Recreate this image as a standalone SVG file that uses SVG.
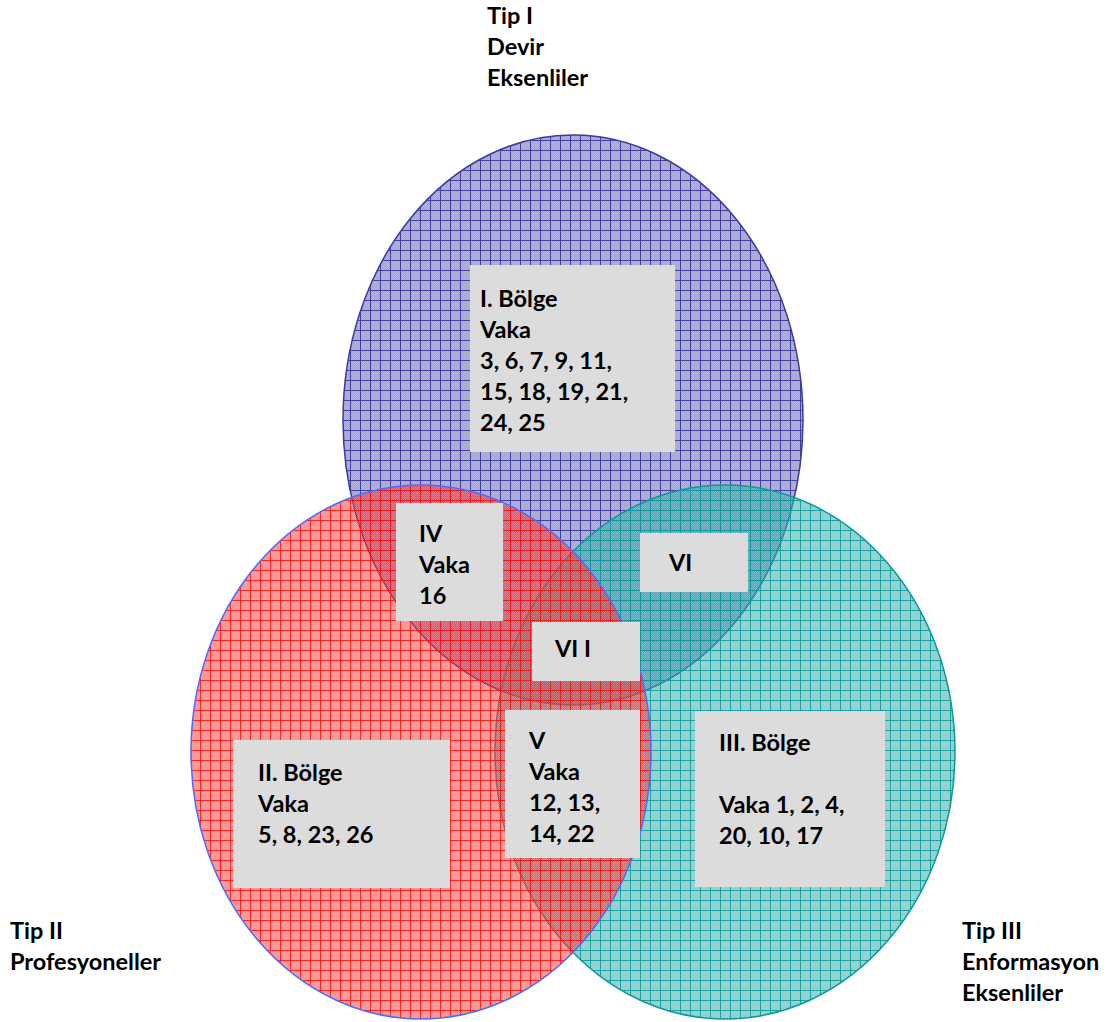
<svg xmlns="http://www.w3.org/2000/svg" width="1111" height="1022" viewBox="0 0 1111 1022">
  <style>
    text { font-family: Lato, "Liberation Sans", sans-serif; font-weight: bold; font-size: 23.5px; fill: #000; }
    .box { fill: #dcdcdc; }
  </style>
  <defs>
    <!-- fine checker texture shared by the grid fills -->
    <pattern id="dots" width="2" height="2" patternUnits="userSpaceOnUse">
      <rect width="1" height="1" fill="#ffffff" fill-opacity="0.18"/>
      <rect x="1" y="1" width="1" height="1" fill="#ffffff" fill-opacity="0.18"/>
    </pattern>
    <!-- grid hatch fills -->
    <pattern id="gridBlue" width="10" height="10" patternUnits="userSpaceOnUse">
      <rect width="10" height="10" fill="#a3a3d4"/>
      <rect width="10" height="10" fill="url(#dots)"/>
      <path d="M0 0.5H10M0.5 0V10" stroke="#4040a2" stroke-width="1"/>
    </pattern>
    <pattern id="gridTeal" width="10" height="10" patternUnits="userSpaceOnUse">
      <rect width="10" height="10" fill="#16a4a4" fill-opacity="0.52"/>
      <rect width="10" height="10" fill="url(#dots)"/>
      <path d="M0 0.5H10M0.5 0V10" stroke="#079a9a" stroke-opacity="0.85" stroke-width="1"/>
    </pattern>
    <pattern id="gridRed" width="10" height="10" patternUnits="userSpaceOnUse">
      <rect width="10" height="10" fill="#ff0a0a" fill-opacity="0.47"/>
      <rect width="10" height="10" fill="url(#dots)"/>
      <path d="M0 0.5H10M0.5 0V10" stroke="#ff1010" stroke-opacity="0.85" stroke-width="1"/>
    </pattern>
  </defs>

  <!-- sets -->
  <g id="set-tip1">
    <ellipse cx="573" cy="420" rx="230" ry="285" fill="url(#gridBlue)" stroke="#3a3aa0" stroke-width="1.5"/>
  </g>
  <g id="set-tip3">
    <ellipse cx="725" cy="752" rx="230" ry="267" fill="url(#gridTeal)" stroke="#0a9a9a" stroke-width="1.5"/>
  </g>
  <g id="set-tip2">
    <ellipse cx="421" cy="752" rx="230" ry="267" fill="url(#gridRed)" stroke="#4a6cff" stroke-width="1.5"/>
  </g>

  <!-- region labels -->
  <g id="region-1">
    <rect class="box" x="470" y="265" width="205" height="187"/>
    <text x="480" y="307">I. Bölge</text>
    <text x="480" y="338">Vaka</text>
    <text x="480" y="369">3, 6, 7, 9, 11,</text>
    <text x="480" y="400">15, 18, 19, 21,</text>
    <text x="480" y="431">24, 25</text>
  </g>
  <g id="region-4">
    <rect class="box" x="396" y="503" width="107" height="118"/>
    <text x="419" y="542">IV</text>
    <text x="419" y="573">Vaka</text>
    <text x="419" y="604">16</text>
  </g>
  <g id="region-6">
    <rect class="box" x="640" y="533" width="108" height="59"/>
    <text x="669" y="571">VI</text>
  </g>
  <g id="region-7">
    <rect class="box" x="532" y="622" width="108" height="59"/>
    <text x="555" y="657">VI I</text>
  </g>
  <g id="region-5">
    <rect class="box" x="505" y="710" width="135" height="148"/>
    <text x="529" y="749">V</text>
    <text x="529" y="780">Vaka</text>
    <text x="529" y="811">12, 13,</text>
    <text x="529" y="842">14, 22</text>
  </g>
  <g id="region-2">
    <rect class="box" x="233" y="740" width="217" height="148"/>
    <text x="258" y="781">II. Bölge</text>
    <text x="258" y="812">Vaka</text>
    <text x="258" y="843">5, 8, 23, 26</text>
  </g>
  <g id="region-3">
    <rect class="box" x="695" y="711" width="190" height="176"/>
    <text x="719" y="751">III. Bölge</text>
    <text x="719" y="813">Vaka 1, 2, 4,</text>
    <text x="719" y="844">20, 10, 17</text>
  </g>

  <!-- set titles -->
  <g id="title-tip1">
    <text x="487" y="24">Tip I</text>
    <text x="487" y="55">Devir</text>
    <text x="487" y="86">Eksenliler</text>
  </g>
  <g id="title-tip2">
    <text x="10" y="939">Tip II</text>
    <text x="10" y="970">Profesyoneller</text>
  </g>
  <g id="title-tip3">
    <text x="962" y="939">Tip III</text>
    <text x="962" y="970">Enformasyon</text>
    <text x="962" y="1001">Eksenliler</text>
  </g>

  <g id="connectors"/>
</svg>
